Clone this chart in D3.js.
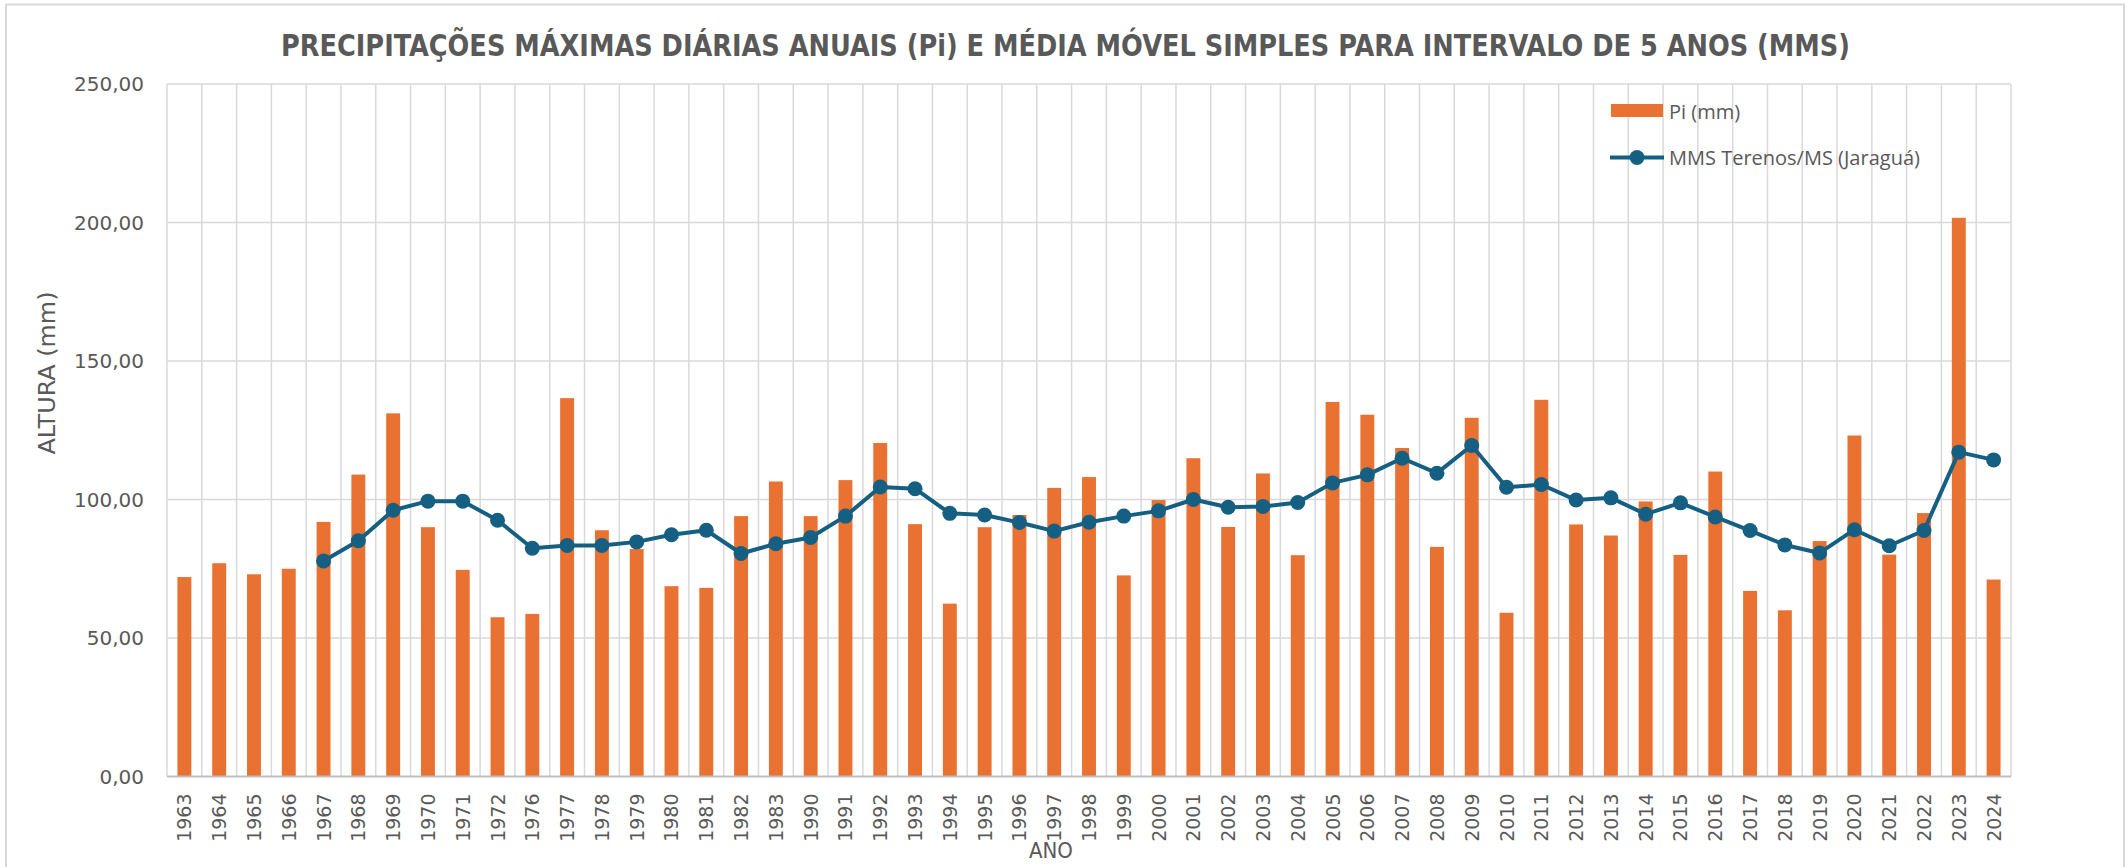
<!DOCTYPE html>
<html>
<head>
<meta charset="utf-8">
<script src="https://cdn.jsdelivr.net/npm/d3@7"></script>
<style>
  html, body { margin: 0; padding: 0; background: #ffffff; }
  svg { display: block; }
</style>
</head>
<body>
<svg id="chart" width="2127" height="867"></svg>
<script>
// ---- Data ----
const years = ["1963","1964","1965","1966","1967","1968","1969","1970","1971","1972",
  "1976","1977","1978","1979","1980","1981","1982","1983",
  "1990","1991","1992","1993","1994","1995","1996","1997","1998","1999",
  "2000","2001","2002","2003","2004","2005","2006","2007","2008","2009",
  "2010","2011","2012","2013","2014","2015","2016","2017","2018","2019",
  "2020","2021","2022","2023","2024"];

const piValues = [72.0, 77.0, 73.0, 75.0, 91.9, 109.0, 131.1, 90.0, 74.6, 57.5,
  58.7, 136.6, 88.9, 82.1, 68.7, 68.1, 94.0, 106.5,
  94.0, 107.0, 120.4, 91.1, 62.4, 90.0, 94.4, 104.2, 108.1, 72.6,
  99.8, 114.9, 90.1, 109.4, 79.9, 135.2, 130.6, 118.6, 82.9, 129.5,
  59.1, 136.0, 91.0, 87.0, 99.3, 80.0, 110.1, 67.0, 60.0, 85.0,
  123.1, 80.1, 95.1, 201.7, 71.1];

// Moving average (MMS) points, starting in 1967
const mmsYears = years.slice(4);
const mmsValues = [77.8, 85.1, 96.1, 99.4, 99.4, 92.5,
  82.4, 83.4, 83.4, 84.7, 87.3, 88.9, 80.5, 84.0,
  86.3, 94.0, 104.5, 103.9, 95.0, 94.4, 91.7, 88.6, 91.8, 94.0,
  95.9, 100.0, 97.2, 97.5, 98.9, 106.0, 108.9, 114.9, 109.5, 119.5,
  104.4, 105.4, 99.8, 100.6, 94.7, 98.8, 93.7, 88.8, 83.6, 80.7,
  89.1, 83.3, 88.8, 117.1, 114.3];

const yTicks = [0, 50, 100, 150, 200, 250];

const titleText = "PRECIPITAÇÕES MÁXIMAS DIÁRIAS ANUAIS (Pi) E MÉDIA MÓVEL SIMPLES PARA INTERVALO DE 5 ANOS (MMS)";
const yTitle = "ALTURA (mm)";
const xTitle = "ANO";
const legendBar = "Pi (mm)";
const legendLine = "MMS Terenos/MS (Jaraguá)";

// ---- Layout ----
const plot = { left: 167, right: 2011, top: 84, bottom: 776.5 };
const ORANGE = "#E97132";
const BLUE = "#156082";
const GRID = "#D9D9D9";
const TXT = "#595959";
const narrow = "'Liberation Sans Narrow','DejaVu Sans Condensed','Arial Narrow',sans-serif";

const svg = d3.select("#chart");

// chart border
svg.append("rect")
  .attr("x", 6).attr("y", 4.5).attr("width", 2118).attr("height", 880)
  .attr("fill", "#fff").attr("stroke", GRID).attr("stroke-width", 2);

const x = d3.scaleBand().domain(years).range([plot.left, plot.right]).paddingInner(0).paddingOuter(0);
const y = d3.scaleLinear().domain([0, 250]).range([plot.bottom, plot.top]);

// horizontal gridlines
svg.append("g").selectAll("line").data(yTicks.filter(d => d > 0)).join("line")
  .attr("x1", plot.left).attr("x2", plot.right)
  .attr("y1", d => y(d)).attr("y2", d => y(d))
  .attr("stroke", GRID).attr("stroke-width", 1.5);

// vertical gridlines at category boundaries
const bounds = years.map(d => x(d)).concat([plot.right]);
svg.append("g").selectAll("line").data(bounds).join("line")
  .attr("x1", d => d).attr("x2", d => d)
  .attr("y1", plot.top).attr("y2", plot.bottom)
  .attr("stroke", GRID).attr("stroke-width", 1.5);

// bars
const bw = x.bandwidth() * 0.4;
svg.append("g").selectAll("rect").data(years).join("rect")
  .attr("x", (d) => x(d) + (x.bandwidth() - bw) / 2)
  .attr("width", bw)
  .attr("y", (d, i) => y(piValues[i]))
  .attr("height", (d, i) => y(0) - y(piValues[i]))
  .attr("fill", ORANGE);

// x axis line
svg.append("line")
  .attr("x1", plot.left).attr("x2", plot.right)
  .attr("y1", plot.bottom).attr("y2", plot.bottom)
  .attr("stroke", "#BFBFBF").attr("stroke-width", 2);

// moving average line
const cx = d => x(d) + x.bandwidth() / 2;
const line = d3.line().x((d, i) => cx(mmsYears[i])).y(d => y(d));
svg.append("path").datum(mmsValues)
  .attr("d", line).attr("fill", "none")
  .attr("stroke", BLUE).attr("stroke-width", 4).attr("stroke-linejoin", "round");
svg.append("g").selectAll("circle").data(mmsValues).join("circle")
  .attr("cx", (d, i) => cx(mmsYears[i])).attr("cy", d => y(d)).attr("r", 7.5)
  .attr("fill", BLUE);

// y axis tick labels
svg.append("g").selectAll("text").data(yTicks).join("text")
  .attr("x", 144).attr("y", d => y(d))
  .attr("text-anchor", "end").attr("dominant-baseline", "central")
  .attr("font-family", "'DejaVu Sans',sans-serif").attr("font-size", 20)
  .attr("fill", TXT)
  .text(d => d3.format(".2f")(d).replace(".", ","));

// x axis tick labels
svg.append("g").selectAll("text").data(years).join("text")
  .attr("transform", d => `translate(${cx(d)},${plot.bottom + 17}) rotate(-90)`)
  .attr("text-anchor", "end").attr("dominant-baseline", "central")
  .attr("font-family", "'DejaVu Sans',sans-serif").attr("font-size", 19)
  .attr("fill", TXT)
  .text(d => d);

// title
svg.append("text")
  .attr("x", 1065.5).attr("y", 56)
  .attr("text-anchor", "middle")
  .attr("font-family", narrow).attr("font-weight", "bold").attr("font-size", 31)
  .attr("fill", TXT)
  .attr("textLength", 1569).attr("lengthAdjust", "spacingAndGlyphs")
  .text(titleText);

// y axis title
svg.append("text")
  .attr("transform", "translate(55,373) rotate(-90)")
  .attr("text-anchor", "middle")
  .attr("font-family", narrow).attr("font-size", 23)
  .attr("fill", TXT)
  .attr("textLength", 163).attr("lengthAdjust", "spacingAndGlyphs")
  .text(yTitle);

// x axis title
svg.append("text")
  .attr("x", 1051).attr("y", 858)
  .attr("text-anchor", "middle")
  .attr("font-family", narrow).attr("font-size", 22)
  .attr("fill", TXT)
  .text(xTitle);

// legend
const lg = svg.append("g");
lg.append("rect").attr("x", 1611).attr("y", 104).attr("width", 52).attr("height", 13).attr("fill", ORANGE);
lg.append("text").attr("x", 1669).attr("y", 111)
  .attr("dominant-baseline", "central")
  .attr("font-family", "'Open Sans',sans-serif").attr("font-size", 20).attr("fill", TXT)
  .text(legendBar);
lg.append("line").attr("x1", 1610).attr("x2", 1664).attr("y1", 157.5).attr("y2", 157.5)
  .attr("stroke", BLUE).attr("stroke-width", 4);
lg.append("circle").attr("cx", 1637).attr("cy", 157.5).attr("r", 7.5).attr("fill", BLUE);
lg.append("text").attr("x", 1669).attr("y", 157)
  .attr("dominant-baseline", "central")
  .attr("font-family", "'Open Sans',sans-serif").attr("font-size", 20).attr("fill", TXT)
  .text(legendLine);
</script>
</body>
</html>
